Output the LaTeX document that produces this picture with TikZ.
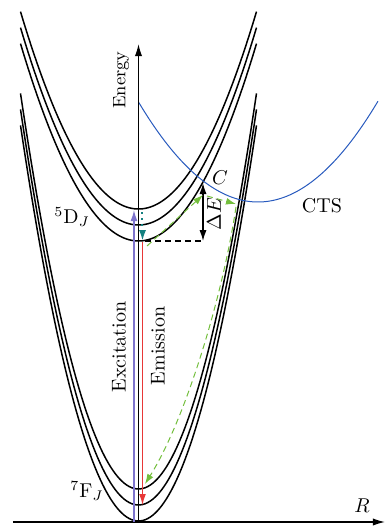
\documentclass[tikz,border=0pt]{standalone}
\usetikzlibrary{arrows.meta}
\definecolor{purpleX}{RGB}{125,115,205}
\definecolor{tealX}{RGB}{20,128,128}
\definecolor{redX}{RGB}{232,55,55}
\definecolor{greenX}{RGB}{115,190,60}
\definecolor{blueX}{RGB}{40,90,190}
\begin{document}
\begin{tikzpicture}[x=0.5pt,y=-0.5pt,
  curve/.style={line width=0.75pt},
  axisline/.style={line width=0.6pt,-{Latex[length=6pt,width=3.6pt]}},
  tr/.style={line width=0.6pt,-{Latex[length=5.5pt,width=3.4pt]}},
  gr/.style={greenX,line width=0.5pt,dash pattern=on 3pt off 2pt,-{Latex[length=5pt,width=3.4pt]}},
  lbl/.style={inner sep=0pt}]
\useasboundingbox (0,0) rectangle (385,527);
% potential curves
\foreach \m in {209,225,241}
  \draw[curve] plot[domain=-118:118,samples=90] ({138.5+\x},{\m-0.01417*\x*\x});
\foreach \m in {489,505,521}
  \draw[curve] plot[domain=-118:118,samples=90] ({138.5+\x},{\m-0.02841*\x*\x});
% CTS
\draw[blueX,line width=0.5pt] plot[domain=-119.5:120,samples=90] ({258+\x},{202-0.00701*\x*\x});
% coordinates
\coordinate (O) at (138.5,522);
\coordinate (Ytop) at (138.5,44);
\coordinate (Xl) at (13,522);
\coordinate (Xr) at (385,522);
\coordinate (exA) at (134,522);
\coordinate (exB) at (134,210);
\coordinate (tdA) at (142.5,212);
\coordinate (tdB) at (142.5,241);
\coordinate (emA) at (142.5,242);
\coordinate (emB) at (142.5,505);
\coordinate (dA) at (145,241);
\coordinate (dB) at (203,241);
\coordinate (C) at (203,183);
\coordinate (g1a) at (147,246);
\coordinate (g1b) at (203,195);
\coordinate (g2a) at (207,196);
\coordinate (g2b) at (236,204);
\coordinate (g3a) at (236,207);
\coordinate (g3b) at (145,484);
% axes
\draw[axisline] (O) -- (Ytop);
\draw[axisline] (Xl) -- (Xr);
% transitions
\draw[purpleX,tr] (exA) -- (exB);
\draw[tealX,line width=1pt,dotted,-{Latex[length=5.5pt,width=3.6pt]}] (tdA) -- (tdB);
\draw[redX,tr] (emA) -- (emB);
\draw[line width=0.7pt,dash pattern=on 3pt off 2pt] (dA) -- (dB);
\draw[line width=0.7pt,{Latex[length=5.5pt,width=3.6pt]}-{Latex[length=5.5pt,width=3.6pt]}] (dB) -- (C);
\draw[gr] (g1a) -- (g1b);
\draw[gr] (g2a) -- (g2b);
\draw[gr] (g3a) .. controls (222,300) and (185,420) .. (g3b);
% labels
\node[lbl,rotate=90,font=\small] (energy) at (121,80) {Energy};
\node[lbl] (D) at (72,217) {$^5\mathrm{D}_J$};
\node[lbl] (F) at (87,491) {$^7\mathrm{F}_J$};
\node[lbl,rotate=90] (exc) at (119,347) {Excitation};
\node[lbl,rotate=90] (emi) at (158,346) {Emission};
\node[lbl] (Clbl) at (220,178) {$C$};
\node[lbl,rotate=90] (dE) at (214,214) {$\Delta E$};
\node[lbl] (cts) at (322,206) {CTS};
\node[lbl] (R) at (362,506) {$R$};
\end{tikzpicture}
\end{document}
